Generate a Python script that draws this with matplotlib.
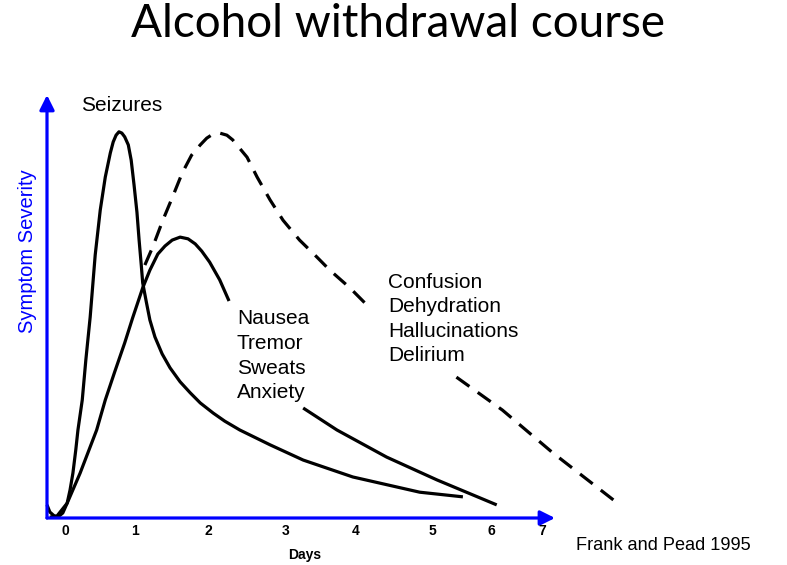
import numpy as np
import matplotlib
matplotlib.use("Agg")
import matplotlib.pyplot as plt

# curvas (x em dias, y em severidade 0-100)
seiz_x = [-0.25, -0.21, -0.15, -0.10, -0.03, 0.03, 0.07, 0.11, 0.15, 0.18, 0.24, 0.29, 0.35,
          0.42, 0.49, 0.56, 0.63, 0.67, 0.71, 0.75, 0.79, 0.83, 0.88, 0.92, 0.96, 1.00,
          1.03, 1.06, 1.08, 1.13, 1.18, 1.25, 1.35, 1.46, 1.60, 1.74, 1.88, 2.06, 2.22,
          2.43, 2.85, 3.31, 4.00, 4.93, 5.53]
seiz_y = [3.1, 1.4, 0.5, 0.2, 1.2, 3.5, 6.6, 10.6, 16.1, 20.8, 27.9, 37.4, 47.5,
          62.2, 72.8, 80.6, 86.3, 88.9, 90.5, 91.3, 91.0, 90.1, 88.2, 84.6, 78.7, 72.3,
          65.7, 59.8, 55.6, 51.1, 46.8, 42.8, 38.8, 35.5, 32.2, 29.6, 27.2, 24.8, 22.9,
          20.8, 17.3, 13.7, 9.7, 6.1, 5.0]

# sintomas leves (com buraco onde fica o texto)
naus_x = [-0.21, -0.11, 0.03, 0.21, 0.44, 0.56, 0.69, 0.83, 0.94, 1.08, 1.18, 1.29, 1.39,
          1.49, 1.60, 1.71, 1.81, 1.90, 2.01, 2.15, 2.28, np.nan, 3.31, 3.78, 4.47, 5.17, 6.00]
naus_y = [0.2, 0.5, 3.5, 10.6, 20.8, 27.9, 34.5, 41.4, 47.3, 54.4, 58.6, 62.4, 64.3,
          65.7, 66.4, 66.0, 64.8, 63.1, 60.5, 56.3, 51.3, np.nan, 26.0, 20.8, 14.4, 9.0, 3.1]

# delirium (tracejado)
del_x = [1.11, 1.22, 1.36, 1.49, 1.63, 1.76, 1.88, 1.97, 2.06, 2.15, 2.25, 2.33, 2.53, 2.67,
         2.85, 3.03, 3.26, 3.50, 3.68, 3.96, 4.24, np.nan, 5.44, 6.08, 6.78, 7.68]
del_y = [59.8, 64.1, 70.4, 75.7, 81.6, 85.8, 88.2, 89.8, 90.8, 91.0, 90.5, 89.4, 85.3, 80.6,
         75.2, 70.4, 65.7, 61.7, 58.6, 54.4, 49.6, np.nan, 33.3, 25.5, 15.4, 3.5]

tick_pos = [0.0, 0.97, 1.99, 3.06, 4.04, 5.11, 5.93, 6.63]
tick_lab = ['0', '1', '2', '3', '4', '5', '6', '7']

plt.rcParams['font.family'] = ['Liberation Sans', 'DejaVu Sans']

fig = plt.figure(figsize=(7.87, 5.65), dpi=100)
ax = fig.add_axes([47/787, 47/565, (555-47)/787, (518-95)/565])
ax.set_xlim(-0.25, 6.81)
ax.set_ylim(0, 100)
ax.axis('off')

# eixos azuis com setas
for fim in [(1, 0), (0, 1)]:
    ax.annotate('', xy=fim, xytext=(0, 0), xycoords='axes fraction',
                arrowprops=dict(arrowstyle='-|>', color='blue', lw=2.3, mutation_scale=22,
                                shrinkA=0, shrinkB=0))

ax.plot(seiz_x, seiz_y, color='black', lw=2.3, clip_on=False,
        solid_joinstyle='round', solid_capstyle='butt')
ax.plot(naus_x, naus_y, color='black', lw=2.3, clip_on=False,
        solid_joinstyle='round', solid_capstyle='butt')
ax.plot(del_x, del_y, color='black', lw=2.3, ls=(0, (5, 3.2)), clip_on=False)

for p, l in zip(tick_pos, tick_lab):
    ax.text(p, -3, l, ha='center', va='center', fontsize=10, fontweight='bold')
ax.text(3.33, -8.8, 'Days', ha='center', va='center', fontsize=10, fontweight='bold')

ax.text(-0.52, 63, 'Symptom Severity', rotation=90, ha='center', va='center',
        fontsize=14.5, color='blue')
ax.text(0.22, 97.5, 'Seizures', ha='left', va='center', fontsize=15)
ax.text(2.39, 49.3, 'Nausea\nTremor\nSweats\nAnxiety', ha='left', va='top',
        fontsize=15, linespacing=1.37)
ax.text(4.49, 58.0, 'Confusion\nDehydration\nHallucinations\nDelirium', ha='left', va='top',
        fontsize=15, linespacing=1.37)
ax.text(7.1, -6.4, 'Frank and Pead 1995', ha='left', va='center', fontsize=13.1)

fig.text(0.506, 0.958, 'Alcohol withdrawal course', ha='center', va='center',
         fontsize=33, family=['Lato', 'DejaVu Sans'])

fig.savefig('out.png', dpi=100)
